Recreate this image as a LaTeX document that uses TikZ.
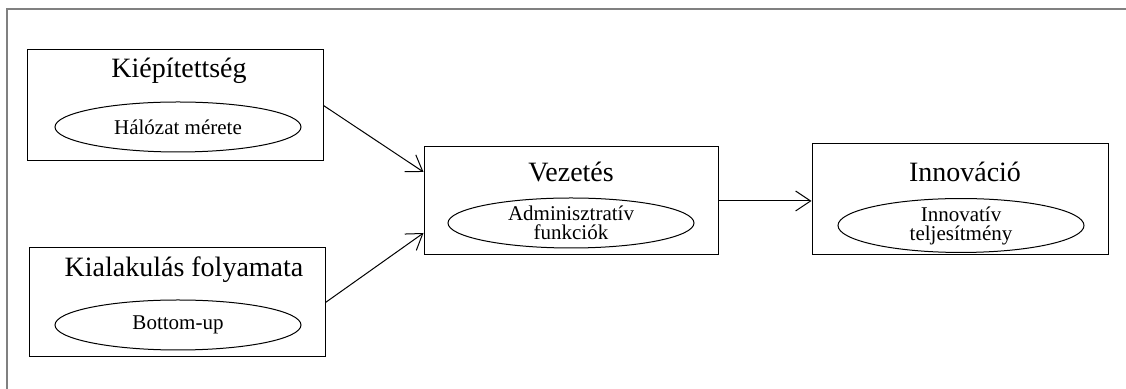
\documentclass[tikz,border=0pt]{standalone}
\usepackage{fontspec}
\setmainfont{Liberation Serif}
\usetikzlibrary{shapes.geometric,arrows.meta}

\tikzset{
  box/.style={draw, rectangle, line width=0.5pt, inner sep=0pt},
  oval/.style={draw, ellipse, line width=0.5pt, inner sep=0pt, align=center,
    minimum width=123pt, minimum height=25pt, font=\fontsize{10.5}{9.5}\selectfont},
  title/.style={anchor=base, font=\fontsize{14}{16}\selectfont},
  link/.style={-{Straight Barb[length=7.5pt,width=10pt]}, line width=0.5pt}
}

\begin{document}
\begin{tikzpicture}[x=0.5pt,y=-0.5pt]

\useasboundingbox (0,0) rectangle (1126,389);
\draw[gray, line width=0.8pt] (1126,9) -- (7,9) -- (7,389);

\node[box, minimum width=148pt, minimum height=55.5pt] (kiep) at (175,105.5) {};
\node[box, minimum width=148pt, minimum height=54.5pt] (kial) at (177,302.5) {};
\node[box, minimum width=147pt, minimum height=54pt] (vez) at (571,201) {};
\node[box, minimum width=148pt, minimum height=55.5pt] (inn) at (960,199.5) {};

\node[title] (kiepT) at (179,78) {Kiépítettség};
\node[title] (kialT) at (184,277) {Kialakulás folyamata};
\node[title] (vezT) at (571,182) {Vezetés};
\node[title] (innT) at (965,182) {Innováció};

\node[oval] (halo) at (178,127) {Hálózat mérete};
\node[oval] (bott) at (178,325) {Bottom-up};
\node[oval] (admin) at (571,223) {Adminisztratív\\funkciók};
\node[oval, minimum height=22.5pt] (innov) at (961,225.5) {Innovatív\\teljesítmény};

\draw[link] (kiep.east) -- ([yshift=14.5pt]vez.west);
\draw[link] (kial.east) -- ([yshift=-16pt]vez.west);
\draw[link] (vez.east) -- (inn.west |- vez.east);

\end{tikzpicture}
\end{document}
